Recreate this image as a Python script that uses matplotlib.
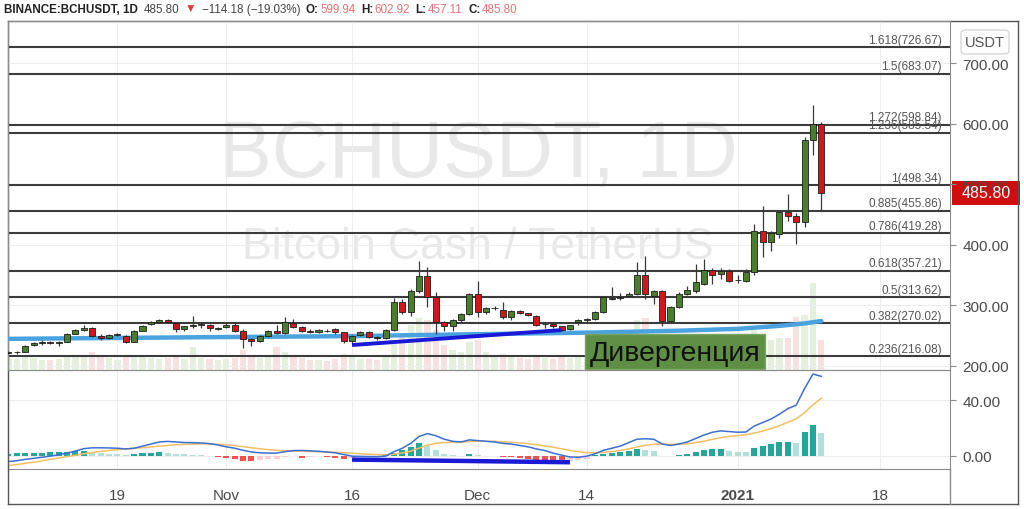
import matplotlib
matplotlib.use("Agg")
import matplotlib.pyplot as plt
import matplotlib.transforms as mtrans
from matplotlib import font_manager
from matplotlib.offsetbox import TextArea, HPacker, AnchoredOffsetbox
from matplotlib.patches import Rectangle, FancyBboxPatch
from matplotlib.lines import Line2D
import numpy as np

# BCHUSDT 1D, свечи с 6 окт 2020 по 11 янв 2021
start_date = "2020-10-06"

opens = [221, 222, 223, 234, 238, 238.5, 238, 240, 253, 259.5,
         262, 250, 245.5, 251, 250, 240, 258, 269, 272.8, 275.6,
         270.6, 260.7, 265, 267.8, 267.8, 261.5, 263.5, 267.8, 258, 244.2,
         241.4, 249.7, 258, 253.6, 270.6, 264.5, 258, 256, 257.5, 260.7,
         255.2, 240.4, 251.3, 255.2, 247, 245.8, 259, 304.8, 289.3, 323,
         348.8, 314, 271.8, 266, 275.6, 285.5, 318.6, 288.3, 295.4, 292,
         280, 290, 286.6, 282.7, 269, 269, 265, 260.7, 271.8, 276,
         277.2, 289.3, 311, 311.5, 314.8, 318.6, 350, 315.7, 324, 274.5,
         297, 319, 323, 336, 358, 352, 357, 341.7, 340.5, 354.4,
         423, 405, 417.6, 454.6, 448, 437, 573.6, 599.94]
highs = [224, 225, 234, 240, 243, 241, 241, 254, 261, 268,
         264, 252, 253, 254, 251, 259, 268, 274, 278, 277,
         272, 266, 283, 272, 269, 264, 270, 270, 260, 246,
         251, 259, 268, 280, 278, 266, 260, 261, 260, 263,
         256, 251, 257, 257, 249, 260, 311.5, 310, 327, 373.5,
         363.7, 322, 274, 277, 288, 320, 340.5, 297, 298, 305,
         292, 293, 288, 284, 271, 271, 266, 268, 277, 279,
         290, 314, 329.6, 320, 322, 370.9, 381, 325, 326, 298,
         322, 332, 368, 376, 362, 362, 360, 350, 360, 434,
         464.5, 423, 456, 483.8, 452, 578, 631, 602.92]
lows = [219, 220, 222, 233, 235, 236, 233, 239, 252, 258,
        248, 243, 244, 249, 238, 239, 257, 267, 271, 271,
        256, 258, 263, 262, 258, 259, 262, 256, 229, 233,
        240, 248, 252, 252, 262, 256, 254, 254, 255, 253,
        238, 238, 250, 246, 243, 244, 257, 285, 282, 320,
        296.6, 252.4, 258, 258, 273, 284, 281, 286, 293, 278,
        275, 285, 282, 265, 262, 263, 258, 259, 267, 270,
        276, 288, 308, 309, 313, 317, 310, 302, 266, 272,
        295, 317, 320, 334, 336, 344, 338, 337, 338, 350,
        379, 390, 412, 440, 401, 430, 548, 457.11]
closes = [222, 223, 233, 238, 238.5, 238, 239, 252, 259, 262,
          250, 245.5, 251, 251.5, 240, 258, 266, 271.7, 275.6, 272.8,
          260.7, 265, 267.8, 268.2, 262.4, 262, 267.8, 258, 244.2, 240.4,
          249.7, 258, 254.2, 271.8, 263.5, 258, 256, 259, 257, 255.2,
          241.4, 249.7, 255.2, 248, 245.4, 259, 304.8, 289.3, 323, 348.8,
          314, 271.8, 266, 275.6, 285.5, 318.6, 288.3, 295.4, 295.8, 280,
          290.5, 286.6, 283.8, 267.3, 269.4, 265, 259.5, 267.3, 275.6, 276.4,
          289.3, 313, 311.5, 313, 318.6, 350, 318.6, 324, 274.5, 296.6,
          319, 325, 338, 358, 350, 357, 340.5, 342, 354.4, 423,
          405, 419.3, 453.5, 447, 437, 573.6, 599.5, 485.80]
volumes = [12, 11, 14, 12, 10, 10, 11, 14, 13, 15,
           18, 13, 12, 10, 13, 14, 13, 12, 11, 12,
           14, 11, 23, 12, 11, 10, 11, 12, 20, 14,
           12, 13, 23, 18, 14, 12, 10, 10, 9, 11,
           16, 13, 11, 11, 10, 14, 30, 35, 45, 52,
           50, 40, 25, 20, 18, 28, 30, 18, 14, 16,
           14, 12, 11, 15, 12, 11, 14, 12, 13, 11,
           16, 25, 20, 15, 18, 50, 52, 25, 30, 22,
           22, 18, 28, 30, 22, 18, 20, 18, 20, 40,
           35, 30, 32, 32, 53, 55, 87, 30]

# длинная скользящая (голубая линия), отдельные точки
ma_dates = ["2020-10-06", "2020-10-19", "2020-11-01", "2020-11-16", "2020-11-25",
            "2020-12-05", "2020-12-15", "2020-12-25", "2021-01-01", "2021-01-06",
            "2021-01-09", "2021-01-11"]
ma_values = [244.5, 246, 247.5, 249, 251, 253, 255, 258, 261, 266, 270, 274]

macd = [-4.1, -3.5, -2.5, -1.8, -1.0, -0.2, 0.8, 2.0, 3.5, 5.2,
        5.8, 5.8, 5.7, 5.5, 5.0, 5.5, 7.0, 8.5, 10.0, 10.4,
        10.0, 9.6, 9.5, 9.3, 8.8, 7.8, 6.5, 5.5, 4.0, 2.8,
        2.2, 2.0, 2.0, 3.0, 3.8, 3.9, 3.6, 3.3, 2.8, 2.2,
        1.0, -0.2, -0.4, -0.5, -0.6, -0.2, 3.0, 5.5, 9.0, 14.0,
        16.0, 14.5, 12.0, 10.5, 10.0, 11.5, 11.0, 10.5, 10.0, 9.0,
        8.5, 7.5, 6.5, 5.0, 3.8, 2.0, 0.5, -0.8, -1.0, -0.2,
        1.5, 4.0, 5.5, 7.0, 9.5, 12.0, 12.3, 12.0, 8.5, 7.5,
        8.5, 10.0, 12.5, 15.0, 17.0, 18.0, 17.5, 17.0, 17.2, 21.5,
        24.0, 26.5, 30.0, 34.0, 36.5, 48.5, 58.9, 57.2]
signal = [-7.0, -6.2, -5.4, -4.6, -3.6, -2.5, -1.5, -0.5, 0.5, 1.5,
          2.4, 3.2, 3.9, 4.5, 5.0, 5.4, 5.9, 6.4, 7.0, 7.5,
          8.0, 8.3, 8.5, 8.6, 8.6, 8.4, 8.0, 7.4, 6.6, 5.8,
          5.1, 4.5, 4.0, 3.7, 3.5, 3.4, 3.2, 3.0, 2.8, 2.6,
          2.3, 1.9, 1.5, 1.2, 0.9, 0.8, 1.2, 2.1, 3.4, 5.6,
          7.7, 9.0, 9.6, 9.9, 10.0, 10.3, 10.5, 10.5, 10.4, 10.1,
          9.8, 9.3, 8.8, 8.0, 7.2, 6.2, 5.1, 3.9, 3.0, 2.3,
          2.2, 2.5, 3.1, 3.9, 5.0, 6.4, 7.6, 8.4, 8.5, 8.3,
          8.4, 8.7, 9.5, 10.6, 11.9, 13.1, 14.0, 14.6, 15.1, 16.4,
          17.9, 19.6, 21.7, 24.2, 26.7, 31.1, 36.7, 41.4]
hist = [1.5, 1.8, 2.0, 2.2, 2.4, 2.6, 2.8, 3.0, 3.4, 3.8,
        2.8, 2.2, 1.6, 1.0, 0.4, 1.2, 1.8, 2.4, 2.6, 2.2,
        1.5, 1.0, 0.7, 0.3, -0.3, -0.8, -1.5, -2.5, -3.5, -4.0,
        -3.2, -2.6, -2.0, -1.0, -0.4, -1.2, -0.8, -0.3, -0.6, -1.5,
        -2.0, -1.2, -1.0, -0.8, -0.6, 0.3, 2.0, 4.5, 6.5, 9.0,
        7.0, 4.0, 1.5, 0.3, 0.2, 1.5, 0.5, 0.1, -0.3, -0.8,
        -1.0, -1.5, -2.0, -2.8, -3.2, -4.0, -4.6, -3.8, -3.0, -2.0,
        0.8, 1.5, 2.2, 2.8, 3.8, 5.0, 4.5, 3.5, 0.2, 0.1,
        0.8, 1.5, 2.8, 4.0, 5.0, 5.3, 3.8, 3.0, 2.5, 6.0,
        7.0, 8.5, 10.0, 10.0, 9.5, 17.5, 22.0, 16.5]

fib_ratios = ["0.236", "0.382", "0.5", "0.618", "0.786", "0.885", "1", "1.236", "1.272", "1.5", "1.618"]
fib_prices = [216.08, 270.02, 313.62, 357.21, 419.28, 455.86, 498.34, 585.54, 598.84, 683.07, 726.67]

# линии дивергенции
div_dates = ["2020-11-16", "2020-12-11"]
div_prices = [234.3, 259.0]
div_macd_dates = ["2020-11-16", "2020-12-12"]
div_macd = [-2.7, -4.6]

tick_dates = ["2020-10-19", "2020-11-01", "2020-11-16", "2020-12-01", "2020-12-14", "2021-01-01", "2021-01-18"]
tick_labels = ["19", "Nov", "16", "Dec", "14", "2021", "18"]
price_ticks = [200, 300, 400, 500, 600, 700]
macd_ticks = [0, 40]

last_price = "485.80"
header = [("BINANCE:BCHUSDT, 1D", None), ("485.80", None), ("▼", None), ("−114.18 (−19.03%)", None),
          ("O:", "599.94"), ("H:", "602.92"), ("L:", "457.11"), ("C:", "485.80")]


def day_index(dates):
    return (np.array(dates, dtype="datetime64[D]") - np.datetime64(start_date, "D")).astype(int)


W, H = 1024, 510


def px_box(x0, y0, x1, y1):
    return [x0 / W, 1 - y1 / H, (x1 - x0) / W, (y1 - y0) / H]


names = {f.name for f in font_manager.fontManager.ttflist}
NARROW = "Liberation Sans Narrow" if "Liberation Sans Narrow" in names else "Liberation Sans"
plt.rcParams["font.family"] = ["Liberation Sans", "DejaVu Sans"]

TXT = "#4a4a4a"
GRID = "#ededed"
EDGE = "#8c8c8c"

fig = plt.figure(figsize=(W / 100, H / 100), dpi=100)
ax = fig.add_axes(px_box(8, 22, 950, 371))
axm = fig.add_axes(px_box(8, 371, 950, 470), sharex=ax)
axv = ax.twinx()
ax.set_zorder(2)
axv.set_zorder(1)
ax.patch.set_visible(False)

x = np.arange(len(opens))
o, h, l, c = map(np.array, (opens, highs, lows, closes))
up = c >= o

# объём
axv.bar(x, volumes, width=0.75, color=np.where(up, "#e4f0dd", "#f7e0e0"), zorder=1)
axv.set_ylim(0, max(volumes) * 4.0)
axv.set_yticks([])
for s in axv.spines.values():
    s.set_visible(False)

# водяной знак
ax.text(0.499, 0.615, "BCHUSDT, 1D", transform=ax.transAxes, ha="center", va="center",
        fontsize=57, color="#e8e8e8", family=[NARROW, "DejaVu Sans"], zorder=0)
ax.text(0.499, 0.355, "Bitcoin Cash / TetherUS", transform=ax.transAxes, ha="center", va="center",
        fontsize=32, color="#e8e8e8", family=[NARROW, "DejaVu Sans"], zorder=0)

# уровни Фибоначчи
blend = mtrans.blended_transform_factory(ax.transAxes, ax.transData)
for r, p in zip(fib_ratios, fib_prices):
    ax.axhline(p, color="#3c3c3c", lw=1.5, zorder=2)
    ax.text(0.9915, p + 2.5, f"{r}({p:.2f})", transform=blend, ha="right", va="bottom",
            fontsize=8.5, color="#555555", zorder=3)

# скользящая
ax.plot(day_index(ma_dates), ma_values, color="#4aa3df", lw=3.2, solid_capstyle="round", zorder=3)

# свечи
ax.vlines(x, l, h, color="#3a3a3a", lw=0.9, zorder=4)
body_lo = np.minimum(o, c)
body_h = np.maximum(np.abs(c - o), 0.8)
ax.bar(x, body_h, bottom=body_lo, width=0.72, color=np.where(up, "#4b7d2f", "#d0181b"),
       edgecolor="#1e1e1e", linewidth=0.6, zorder=5)

ax.plot(day_index(div_dates), div_prices, color="#1a1ad6", lw=2.8, solid_capstyle="butt", zorder=6)

# надпись
ax.add_patch(Rectangle((0.6125, 0.003), 0.191, 0.1, transform=ax.transAxes,
                       facecolor="#5f8f45", edgecolor="#7aa462", lw=1, zorder=7))
ax.text(0.708, 0.05, "Дивергенция", transform=ax.transAxes, ha="center", va="center",
        fontsize=20.5, color="#111111", zorder=8)

ax.set_ylim(193, 770)
ax.set_xlim(-0.05, 112.35)
ax.yaxis.tick_right()
ax.set_yticks(price_ticks)
ax.set_yticklabels([f"{t:.2f}" for t in price_ticks])
ax.tick_params(axis="y", colors=EDGE, labelcolor=TXT, labelsize=11, length=4, pad=5)
ax.tick_params(axis="x", length=0, labelbottom=False)
ax.grid(True, color=GRID, lw=0.8, zorder=0)
for s in ax.spines.values():
    s.set_color(EDGE)

# MACD
hist_a = np.array(hist)
prev = np.concatenate([[hist_a[0] - 1], hist_a[:-1]])
hcol = np.where(hist_a >= 0, np.where(hist_a >= prev, "#26a69a", "#b2dfdb"),
                np.where(hist_a <= prev, "#ef5350", "#ffcdd2"))
axm.bar(x, hist_a, width=0.72, color=hcol, zorder=2)
axm.plot(x, signal, color="#f3bf63", lw=1.1, zorder=3)
axm.plot(x, macd, color="#3d6fd0", lw=1.1, zorder=4)
axm.plot(day_index(div_macd_dates), div_macd, color="#1a1ad6", lw=3.2, solid_capstyle="butt", zorder=5)
axm.set_ylim(-9.45, 61.8)
axm.yaxis.tick_right()
axm.set_yticks(macd_ticks)
axm.set_yticklabels([f"{t:.2f}" for t in macd_ticks])
axm.tick_params(axis="y", colors=EDGE, labelcolor=TXT, labelsize=11, length=4, pad=5)
axm.set_xticks(day_index(tick_dates))
axm.set_xticklabels(tick_labels)
axm.tick_params(axis="x", length=0, pad=14, labelcolor=TXT, labelsize=11)
axm.get_xticklabels()[tick_labels.index("2021")].set_fontweight("bold")
axm.grid(True, color=GRID, lw=0.8, zorder=0)
for s in axm.spines.values():
    s.set_color(EDGE)

# рамка и шкала справа
def fig_line(x0, y0, x1, y1, **kw):
    fig.add_artist(Line2D([x0 / W, x1 / W], [1 - y0 / H, 1 - y1 / H], transform=fig.transFigure, **kw))

fig_line(8, 22, 1018, 22, color="#555555", lw=1)
fig_line(8, 505, 1018, 505, color="#555555", lw=1)
fig_line(8, 22, 8, 505, color="#555555", lw=1)
fig_line(1018, 22, 1018, 505, color="#555555", lw=1)
fig_line(950, 470, 950, 505, color=EDGE, lw=1)

fig.add_artist(FancyBboxPatch((961 / W, 1 - 55 / H), 48 / W, 24 / H, boxstyle="round,pad=0,rounding_size=0.006",
                              transform=fig.transFigure, facecolor="white", edgecolor="#d6d6d6", lw=1))
fig.text(985 / W, 1 - 43 / H, "USDT", ha="center", va="center", fontsize=10.5, color="#555555")

fig.add_artist(Rectangle((952 / W, 1 - 206 / H), 68 / W, 24 / H, transform=fig.transFigure,
                         facecolor="#d10c0c", edgecolor="none"))
fig.text(986 / W, 1 - 194 / H, last_price, ha="center", va="center", fontsize=11.5, color="white")

# заголовок
dark, red_v = "#222222", "#e57373"
HDR = 8.4
groups = []
for label, value in header:
    if value is None:
        col = "#e53935" if label == "▼" else ("#222222" if label.startswith("BINANCE") else "#444444")
        wt = "bold" if label.startswith("BINANCE") else "normal"
        groups.append(TextArea(label, textprops=dict(color=col, fontsize=HDR, fontweight=wt,
                                                      family=[NARROW, "DejaVu Sans"])))
    else:
        groups.append(HPacker(children=[
            TextArea(label, textprops=dict(color=dark, fontsize=HDR, fontweight="bold", family=[NARROW, "DejaVu Sans"])),
            TextArea(value, textprops=dict(color=red_v, fontsize=HDR, family=[NARROW, "DejaVu Sans"]))],
            pad=0, sep=1))
box = HPacker(children=groups, pad=0, sep=4, align="baseline")
fig.add_artist(AnchoredOffsetbox(loc="upper left", child=box, bbox_to_anchor=(4 / W, 1 - 4 / H),
                                 bbox_transform=fig.transFigure, frameon=False, pad=0, borderpad=0))

fig.savefig("out.png", dpi=100)
